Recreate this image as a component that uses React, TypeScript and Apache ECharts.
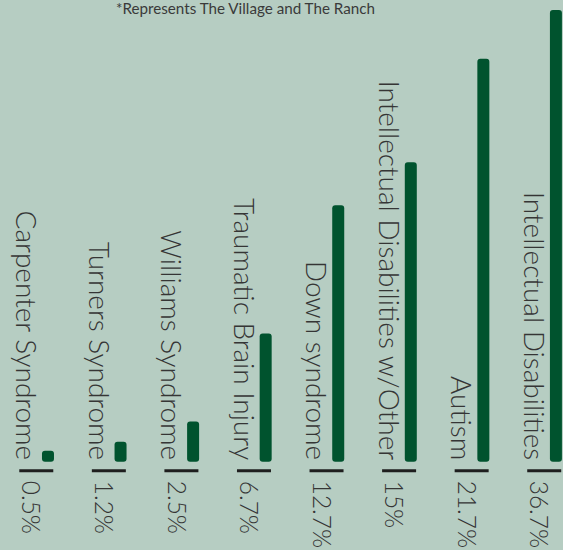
import React, { useEffect, useRef } from "react";
import * as echarts from "echarts";

const categories = [
  "Carpenter Syndrome",
  "Turners Syndrome",
  "Williams Syndrome",
  "Traumatic Brain Injury",
  "Down syndrome",
  "Intellectual Disabilities w/Other",
  "Autism",
  "Intellectual Disabilities",
];
const percentLabels = ["0.5%", "1.2%", "2.5%", "6.7%", "12.7%", "15%", "21.7%", "36.7%"];
// bar lengths as drawn in the picture (relative scale, tallest bar = 100)
const barLengths = [2.4, 4.4, 8.9, 28.4, 56.8, 66.3, 89.2, 100];
const note = "*Represents The Village and The Ranch";

const FONT = "Lato, 'Open Sans', sans-serif";
const TEXT = "#353535";
const BAR = "#00532e";
const BG = "#b6cdc2";
const BAR_SHIFT = 11.7;

export default function App() {
  const ref = useRef<HTMLDivElement>(null);
  useEffect(() => {
    const chart = echarts.init(ref.current!, null, { renderer: "svg" });
    chart.setOption({
      animation: false,
      backgroundColor: BG,
      title: {
        text: note,
        left: 116,
        top: 0,
        padding: 0,
        textStyle: { fontFamily: FONT, fontSize: 15.2, fontWeight: 400, color: "#3a3a3a" },
      },
      grid: {
        left: BAR_SHIFT,
        right: -29.2,
        top: 10,
        bottom: 88.3,
        outerBoundsMode: "none",
        containLabel: false,
      },
      xAxis: { type: "category", data: categories, show: false },
      yAxis: { type: "value", min: 0, max: 100, show: false },
      series: [
        {
          type: "bar",
          data: barLengths,
          barWidth: 12,
          itemStyle: { color: BAR, borderRadius: 3 },
        },
        {
          type: "custom",
          data: categories.map((_, i) => [i, 0]),
          renderItem: (params: any, api: any) => {
            const i = api.value(0);
            const p = api.coord([i, 0]);
            const c = p[0] - BAR_SHIFT;
            const b = p[1];
            return {
              type: "group",
              children: [
                {
                  type: "text",
                  x: c - 9.3,
                  y: b - 1.5,
                  rotation: -Math.PI / 2,
                  style: {
                    text: categories[i],
                    fontSize: 28,
                    fontFamily: FONT,
                    fontWeight: 300,
                    fill: TEXT,
                    align: "right",
                    verticalAlign: "middle",
                  },
                },
                {
                  type: "rect",
                  shape: { x: c - 17, y: b + 7.6, width: 34, height: 3 },
                  style: { fill: "#1e1e1e" },
                },
                {
                  type: "text",
                  x: c - 4.3,
                  y: b + 19,
                  rotation: -Math.PI / 2,
                  style: {
                    text: percentLabels[i],
                    fontSize: 24.5,
                    fontFamily: FONT,
                    fontWeight: 300,
                    fill: TEXT,
                    align: "left",
                    verticalAlign: "middle",
                  },
                },
              ],
            };
          },
        },
      ],
    });
    return () => chart.dispose();
  }, []);
  return (
    <div
      ref={ref}
      style={{ position: "fixed", left: 0, top: 0, width: 563, height: 550 }}
    />
  );
}
